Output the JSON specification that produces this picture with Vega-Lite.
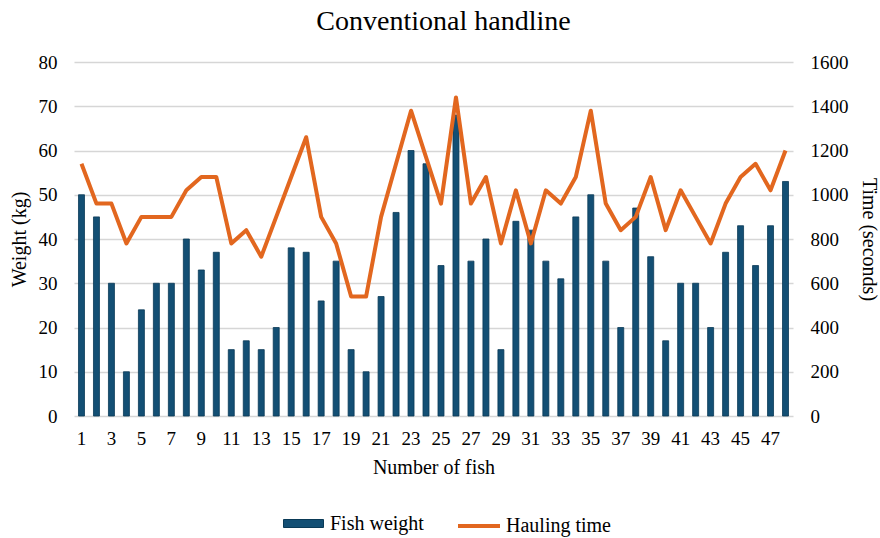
{
  "$schema": "https://vega.github.io/schema/vega-lite/v6.json",
  "autosize": {"type": "none"},
  "padding": {"left": 74, "top": 62, "right": 87, "bottom": 122},
  "width": 719,
  "height": 354,
  "background": "white",
  "title": {"text": "Conventional handline", "font": "Liberation Serif", "fontSize": 28, "fontWeight": "normal", "color": "#000000", "anchor": "middle", "offset": 17, "dx": 10},
  "config": {
    "view": {"stroke": null},
    "axis": {"labelFont": "Liberation Serif", "titleFont": "Liberation Serif", "labelFontSize": 19, "titleFontSize": 20, "titleFontWeight": "normal", "labelColor": "#000000", "titleColor": "#000000", "ticks": false, "domain": false},
    "legend": {"labelFont": "Liberation Serif", "labelFontSize": 20, "labelColor": "#000000"}
  },
  "data": {"values": [
    {"n": 1, "w": 50, "t": 1140}, {"n": 2, "w": 45, "t": 960}, {"n": 3, "w": 30, "t": 960}, {"n": 4, "w": 10, "t": 780},
    {"n": 5, "w": 24, "t": 900}, {"n": 6, "w": 30, "t": 900}, {"n": 7, "w": 30, "t": 900}, {"n": 8, "w": 40, "t": 1020},
    {"n": 9, "w": 33, "t": 1080}, {"n": 10, "w": 37, "t": 1080}, {"n": 11, "w": 15, "t": 780}, {"n": 12, "w": 17, "t": 840},
    {"n": 13, "w": 15, "t": 720}, {"n": 14, "w": 20, "t": 900}, {"n": 15, "w": 38, "t": 1080}, {"n": 16, "w": 37, "t": 1260},
    {"n": 17, "w": 26, "t": 900}, {"n": 18, "w": 35, "t": 780}, {"n": 19, "w": 15, "t": 540}, {"n": 20, "w": 10, "t": 540},
    {"n": 21, "w": 27, "t": 900}, {"n": 22, "w": 46, "t": 1140}, {"n": 23, "w": 60, "t": 1380}, {"n": 24, "w": 57, "t": 1170},
    {"n": 25, "w": 34, "t": 960}, {"n": 26, "w": 68, "t": 1440}, {"n": 27, "w": 35, "t": 960}, {"n": 28, "w": 40, "t": 1080},
    {"n": 29, "w": 15, "t": 780}, {"n": 30, "w": 44, "t": 1020}, {"n": 31, "w": 42, "t": 780}, {"n": 32, "w": 35, "t": 1020},
    {"n": 33, "w": 31, "t": 960}, {"n": 34, "w": 45, "t": 1080}, {"n": 35, "w": 50, "t": 1380}, {"n": 36, "w": 35, "t": 960},
    {"n": 37, "w": 20, "t": 840}, {"n": 38, "w": 47, "t": 900}, {"n": 39, "w": 36, "t": 1080}, {"n": 40, "w": 17, "t": 840},
    {"n": 41, "w": 30, "t": 1020}, {"n": 42, "w": 30, "t": 900}, {"n": 43, "w": 20, "t": 780}, {"n": 44, "w": 37, "t": 960},
    {"n": 45, "w": 43, "t": 1080}, {"n": 46, "w": 34, "t": 1140}, {"n": 47, "w": 43, "t": 1020}, {"n": 48, "w": 53, "t": 1200}
  ]},
  "encoding": {
    "x": {"field": "n", "type": "ordinal", "scale": {"paddingInner": 0.6, "paddingOuter": 0.3},
      "axis": {"title": "Number of fish", "labelFont": "Liberation Serif", "labelFontSize": 19, "labelAngle": 0, "labelPadding": 13, "titlePadding": 9, "labelExpr": "datum.value % 2 == 1 ? datum.label : ''"}}
  },
  "layer": [
    {
      "mark": {"type": "bar", "stroke": "#0a3a57", "strokeWidth": 0.8},
      "encoding": {
        "y": {"field": "w", "type": "quantitative", "scale": {"domain": [0, 80]},
          "axis": {"title": "Weight (kg)", "labelFont": "Liberation Serif", "labelFontSize": 19, "values": [0, 10, 20, 30, 40, 50, 60, 70, 80], "grid": true, "gridColor": "#d6d6d6", "gridWidth": 1.5, "labelPadding": 17, "titlePadding": 9}},
        "fill": {"datum": "Fish weight", "type": "nominal", "scale": {"domain": ["Fish weight"], "range": ["#134f74"]},
          "legend": {"title": null, "orient": "none", "legendX": 209, "legendY": 441, "symbolType": "M-1,-0.2H1V0.2H-1Z", "symbolSize": 1600, "symbolStrokeColor": "#0a3a57", "symbolStrokeWidth": 1, "symbolOpacity": 1, "labelOffset": 6}}
      }
    },
    {
      "mark": {"type": "line", "strokeWidth": 4, "strokeJoin": "round"},
      "encoding": {
        "y": {"field": "t", "type": "quantitative", "scale": {"domain": [0, 1600]},
          "axis": {"orient": "right", "title": "Time (seconds)", "labelFont": "Liberation Serif", "labelFontSize": 19, "format": "d", "values": [0, 200, 400, 600, 800, 1000, 1200, 1400, 1600], "grid": false, "labelPadding": 17, "titlePadding": 10}},
        "stroke": {"datum": "Hauling time", "type": "nominal", "scale": {"domain": ["Hauling time"], "range": ["#e2671f"]},
          "legend": {"title": null, "orient": "none", "legendX": 382, "legendY": 441, "symbolType": "stroke", "symbolSize": 1764, "symbolStrokeWidth": 4, "labelOffset": 4}}
      }
    }
  ],
  "resolve": {"scale": {"y": "independent"}}
}
